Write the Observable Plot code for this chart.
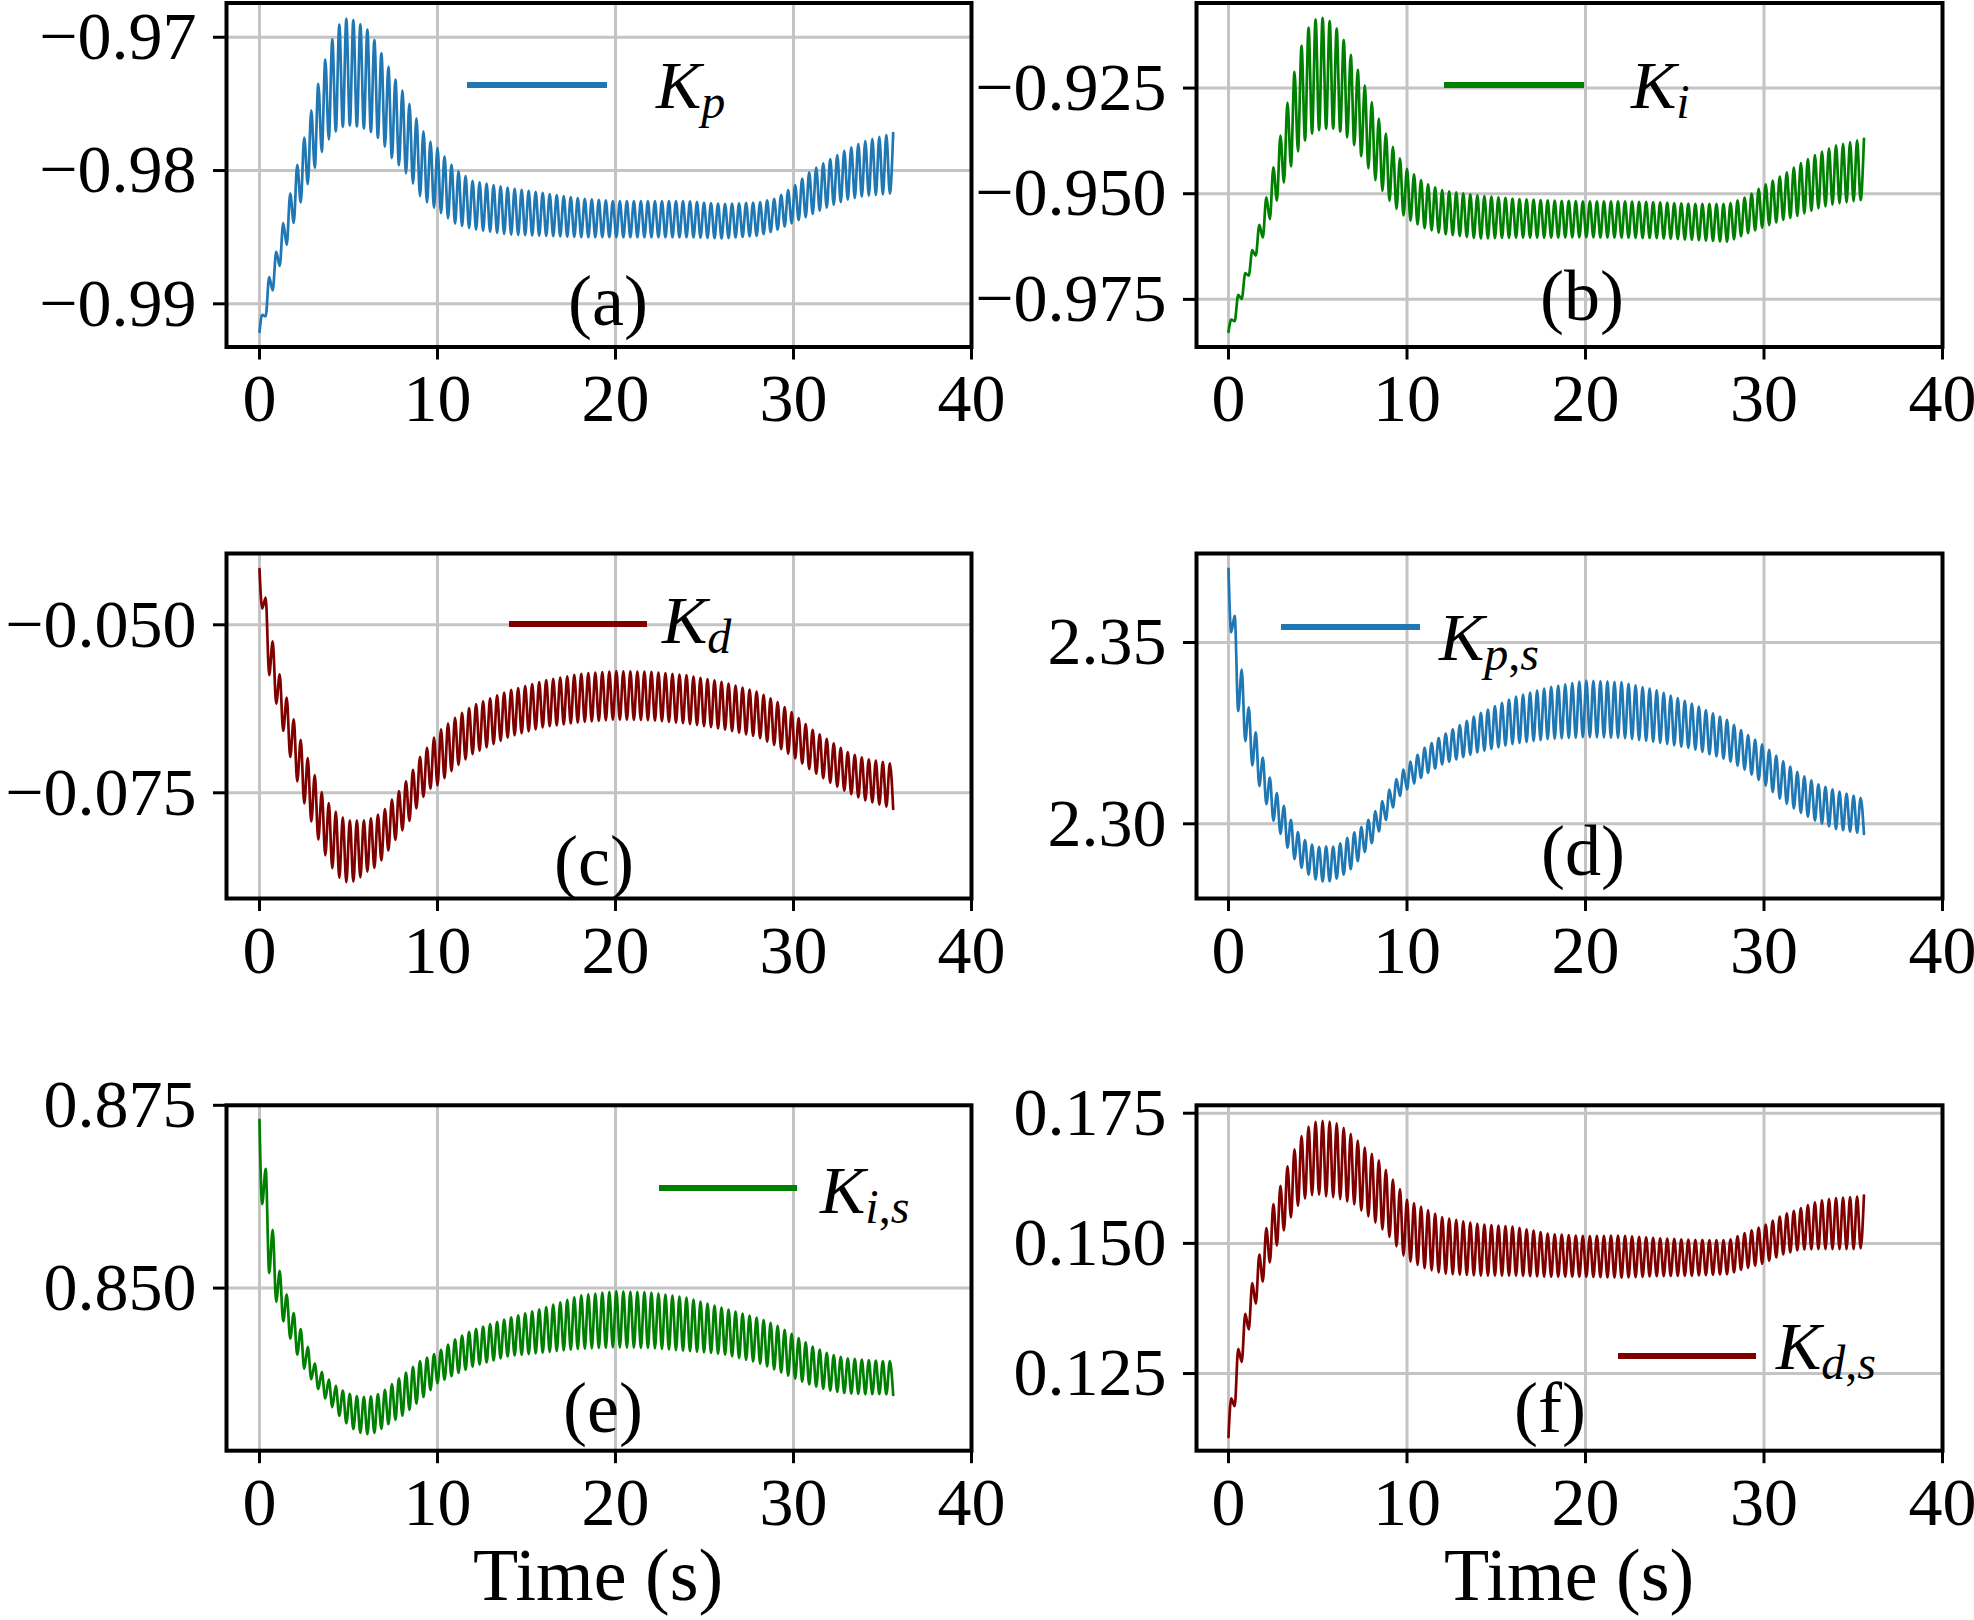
<!DOCTYPE html>
<html><head><meta charset="utf-8">
<script src="https://cdn.jsdelivr.net/npm/d3@7"></script>
<script src="https://cdn.jsdelivr.net/npm/@observablehq/plot@0.6"></script>
<style>
body{margin:0;background:#fff;}
#fig{position:relative;width:1974px;height:1620px;overflow:hidden;background:#fff;}
.panel{position:absolute;}
.panel svg{overflow:visible;}
#overlay{position:absolute;left:0;top:0;pointer-events:none;}
</style></head><body><div id="fig"></div>
<script>
// ---------- data ----------
// sample times (s) for the envelopes of the oscillating gains
const T = [0,0.25,0.5,1,1.5,2,2.5,3,3.5,4,4.5,5,5.5,6,6.5,7,7.5,8,8.5,9,9.5,10,11,12,14,16,18,20,22,24,26,28,29,30,31,32,33,34,35,35.6];

// upper (hi) / lower (lo) envelope of each gain
const kpHi = [-0.9919,-0.9901,-0.9882,-0.9858,-0.9830,-0.9802,-0.9776,-0.9750,-0.9725,-0.9704,-0.9690,-0.9685,-0.9689,-0.9693,-0.9703,-0.9716,-0.9729,-0.9739,-0.9752,-0.9766,-0.9777,-0.9783,-0.9799,-0.9808,-0.9813,-0.9817,-0.9821,-0.9823,-0.9823,-0.9823,-0.9825,-0.9824,-0.9821,-0.9812,-0.9800,-0.9792,-0.9784,-0.9778,-0.9774,-0.9772];
const kpLo = [-0.9921,-0.9914,-0.9902,-0.9877,-0.9857,-0.9836,-0.9817,-0.9801,-0.9786,-0.9774,-0.9768,-0.9766,-0.9767,-0.9769,-0.9773,-0.9781,-0.9792,-0.9798,-0.9807,-0.9819,-0.9825,-0.9830,-0.9840,-0.9844,-0.9848,-0.9849,-0.9850,-0.9850,-0.9850,-0.9850,-0.9851,-0.9849,-0.9845,-0.9839,-0.9833,-0.9827,-0.9822,-0.9819,-0.9818,-0.9817];

const kiHi = [-0.9810,-0.9790,-0.9745,-0.9680,-0.9610,-0.9530,-0.9440,-0.9345,-0.9245,-0.9160,-0.9105,-0.9082,-0.9085,-0.9105,-0.9140,-0.9185,-0.9230,-0.9280,-0.9330,-0.9374,-0.9410,-0.9441,-0.9475,-0.9492,-0.9504,-0.9512,-0.9516,-0.9518,-0.9518,-0.9520,-0.9524,-0.9524,-0.9508,-0.9480,-0.9457,-0.9429,-0.9405,-0.9386,-0.9376,-0.9370];
const kiLo = [-0.9827,-0.9812,-0.9785,-0.9710,-0.9650,-0.9595,-0.9540,-0.9484,-0.9435,-0.9390,-0.9362,-0.9350,-0.9346,-0.9346,-0.9360,-0.9382,-0.9415,-0.9453,-0.9486,-0.9516,-0.9540,-0.9559,-0.9582,-0.9595,-0.9606,-0.9604,-0.9604,-0.9603,-0.9604,-0.9605,-0.9609,-0.9614,-0.9595,-0.9579,-0.9563,-0.9551,-0.9535,-0.9524,-0.9518,-0.9514];

const kdHi = [-0.0417,-0.0440,-0.0490,-0.0562,-0.0606,-0.0647,-0.0685,-0.0717,-0.0749,-0.0770,-0.0784,-0.0791,-0.0791,-0.0791,-0.0785,-0.0776,-0.0758,-0.0742,-0.0722,-0.0697,-0.0680,-0.0660,-0.0638,-0.0620,-0.0598,-0.0583,-0.0573,-0.0569,-0.0570,-0.0575,-0.0585,-0.0600,-0.0613,-0.0632,-0.0655,-0.0672,-0.0689,-0.0699,-0.0704,-0.0707];
const kdLo = [-0.0437,-0.0502,-0.0570,-0.0624,-0.0675,-0.0723,-0.0765,-0.0799,-0.0833,-0.0859,-0.0877,-0.0885,-0.0880,-0.0868,-0.0861,-0.0846,-0.0825,-0.0807,-0.0789,-0.0764,-0.0745,-0.0739,-0.0712,-0.0692,-0.0667,-0.0652,-0.0645,-0.0641,-0.0642,-0.0647,-0.0655,-0.0667,-0.0680,-0.0697,-0.0717,-0.0734,-0.0749,-0.0761,-0.0769,-0.0774];

const kpsHi = [2.3703,2.3620,2.3500,2.3345,2.3257,2.3169,2.3103,2.3060,2.3011,2.2968,2.2946,2.2936,2.2938,2.2937,2.2955,2.2975,2.2993,2.3020,2.3053,2.3093,2.3130,2.3162,2.3210,2.3244,2.3303,2.3349,2.3377,2.3395,2.3391,2.3368,2.3331,2.3285,2.3248,2.3216,2.3175,2.3138,2.3110,2.3092,2.3078,2.3069];
const kpsLo = [2.3615,2.3470,2.3320,2.3215,2.3134,2.3068,2.3010,2.2964,2.2915,2.2883,2.2859,2.2843,2.2839,2.2847,2.2861,2.2881,2.2914,2.2944,2.2985,2.3025,2.3072,2.3095,2.3135,2.3165,2.3198,2.3221,2.3234,2.3239,2.3237,2.3225,2.3207,2.3175,2.3147,2.3110,2.3064,2.3032,2.3005,2.2986,2.2977,2.2972];

const kisHi = [0.8730,0.8690,0.8621,0.8535,0.8493,0.8461,0.8434,0.8400,0.8385,0.8372,0.8362,0.8356,0.8352,0.8351,0.8353,0.8360,0.8370,0.8380,0.8390,0.8400,0.8406,0.8412,0.8430,0.8443,0.8459,0.8473,0.8490,0.8496,0.8494,0.8487,0.8473,0.8459,0.8450,0.8436,0.8421,0.8410,0.8404,0.8402,0.8400,0.8400];
const kisLo = [0.8647,0.8593,0.8525,0.8475,0.8444,0.8415,0.8390,0.8372,0.8355,0.8340,0.8325,0.8312,0.8303,0.8300,0.8302,0.8310,0.8318,0.8325,0.8335,0.8346,0.8358,0.8370,0.8382,0.8393,0.8407,0.8412,0.8417,0.8419,0.8418,0.8414,0.8410,0.8398,0.8388,0.8377,0.8367,0.8360,0.8356,0.8355,0.8355,0.8354];

const kdsHi = [0.1153,0.1235,0.1290,0.1375,0.1448,0.1515,0.1574,0.1619,0.1667,0.1702,0.1725,0.1736,0.1735,0.1732,0.1721,0.1706,0.1688,0.1673,0.1657,0.1632,0.1610,0.1584,0.1567,0.1550,0.1537,0.1532,0.1518,0.1514,0.1515,0.1510,0.1507,0.1506,0.1521,0.1534,0.1554,0.1567,0.1581,0.1587,0.1589,0.1592];
const kdsLo = [0.1128,0.1160,0.1230,0.1318,0.1381,0.1435,0.1480,0.1518,0.1550,0.1578,0.1592,0.1594,0.1590,0.1588,0.1582,0.1576,0.1561,0.1547,0.1531,0.1513,0.1490,0.1468,0.1452,0.1442,0.1438,0.1438,0.1436,0.1436,0.1434,0.1437,0.1438,0.1441,0.1452,0.1462,0.1478,0.1488,0.1489,0.1489,0.1489,0.1491];

// oscillation timing
const FIRST_PEAK = 0.15, HALF_PERIOD = 0.197, T_END = 35.6;

// tick values and labels
const xTicks = [0, 10, 20, 30, 40];
const yTicksA = [-0.99, -0.98, -0.97];
const yTicksB = [-0.975, -0.95, -0.925];
const yTicksC = [-0.075, -0.05];
const yTicksD = [2.30, 2.35];
const yTicksE = [0.85, 0.875];
const yTicksF = [0.125, 0.15, 0.175];
const legendNames = [["K","p"],["K","i"],["K","d"],["K","p,s"],["K","i,s"],["K","d,s"]];
const panelTags = ["(a)","(b)","(c)","(d)","(e)","(f)"];
const xTitle = "Time (s)";

// ---------- build the traces: alternate between the read envelopes ----------
function trace(hi, lo, inverted) {
  const fHi = d3.scaleLinear().domain(T).range(hi);
  const fLo = d3.scaleLinear().domain(T).range(lo);
  const pts = [];
  let type = inverted ? "hi" : "lo";
  pts.push({t: 0, v: (type === "hi" ? fHi : fLo)(0)});
  for (let j = 0; ; j++) {
    const t = FIRST_PEAK + HALF_PERIOD * j;
    if (t >= T_END) break;
    type = ((j % 2 === 0) !== inverted) ? "hi" : "lo";
    pts.push({t, v: (type === "hi" ? fHi : fLo)(t)});
  }
  const endType = type === "hi" ? "lo" : "hi";
  pts.push({t: T_END, v: (endType === "hi" ? fHi : fLo)(T_END)});
  return pts;
}

const BLUE = "#1f77b4", GREEN = "#008000", RED = "#800000";
const FONT = "'Liberation Serif','Times New Roman',serif";

const col = [
  {left: 0, width: 990, ml: 226, mr: 19, xd: [-1.854, 40]},
  {left: 960, width: 1014, ml: 236, mr: 32, xd: [-1.793, 40]}
];
const row = [
  {top: 0, height: 450, mt: 2.5, mb: 103.5},
  {top: 500, height: 500, mt: 53, mb: 102},
  {top: 1060, height: 480, mt: 44.8, mb: 89.8}
];

const panels = [
  {hi: kpHi, lo: kpLo, inv: false, color: BLUE, c: 0, r: 0, yd: [-0.99324, -0.96743], ticks: yTicksA, fmt: ".2f"},
  {hi: kiHi, lo: kiLo, inv: false, color: GREEN, c: 1, r: 0, yd: [-0.98627, -0.90487], ticks: yTicksB, fmt: ".3f"},
  {hi: kdHi, lo: kdLo, inv: true, color: RED, c: 0, r: 1, yd: [-0.09073, -0.03939], ticks: yTicksC, fmt: ".3f"},
  {hi: kpsHi, lo: kpsLo, inv: true, color: BLUE, c: 1, r: 1, yd: [2.2794, 2.37454], ticks: yTicksD, fmt: ".2f"},
  {hi: kisHi, lo: kisLo, inv: true, color: GREEN, c: 0, r: 2, yd: [0.82776, 0.875], ticks: yTicksE, fmt: ".3f"},
  {hi: kdsHi, lo: kdsLo, inv: false, color: RED, c: 1, r: 2, yd: [0.11018, 0.17652], ticks: yTicksF, fmt: ".3f"}
];

const fig = document.getElementById("fig");
const GRID = {stroke: "#c4c4c4", strokeOpacity: 1, strokeWidth: 3};

panels.forEach(p => {
  const C = col[p.c], R = row[p.r];
  const data = trace(p.hi, p.lo, p.inv);
  const chart = Plot.plot({
    width: C.width, height: R.height,
    marginLeft: C.ml, marginRight: C.mr, marginTop: R.mt, marginBottom: R.mb,
    style: {fontFamily: FONT, fontSize: "68px", background: "transparent", overflow: "visible", color: "black"},
    x: {domain: C.xd, axis: null},
    y: {domain: p.yd, axis: null},
    marks: [
      Plot.gridX(xTicks, GRID),
      Plot.gridY(p.ticks, GRID),
      Plot.line(data, {x: "t", y: "v", stroke: p.color, strokeWidth: 2.7, curve: "monotone-x"}),
      Plot.frame({stroke: "black", strokeWidth: 4}),
      Plot.axisX(xTicks, {tickSize: 13, tickPadding: 13, fontSize: 68, strokeWidth: 3, tickFormat: d3.format("d"), label: null}),
      Plot.axisY(p.ticks, {tickSize: 13, tickPadding: 17, fontSize: 68, strokeWidth: 3, tickFormat: d3.format(p.fmt), label: null})
    ]
  });
  const div = document.createElement("div");
  div.className = "panel";
  div.style.left = C.left + "px";
  div.style.top = R.top + "px";
  div.appendChild(chart);
  fig.appendChild(div);
});

// ---------- legends, panel tags, axis titles ----------
const legendPos = [
  {x1: 467, x2: 607, y: 85, lx: 656, ly: 108},
  {x1: 1444, x2: 1584, y: 85, lx: 1631, ly: 108},
  {x1: 509, x2: 647, y: 624, lx: 662, ly: 643},
  {x1: 1281, x2: 1420, y: 627, lx: 1439, ly: 660},
  {x1: 659, x2: 797, y: 1188, lx: 820, ly: 1213},
  {x1: 1618, x2: 1756, y: 1356, lx: 1776, ly: 1369}
];
const tagPos = [[608,325],[1582,320],[594,885],[1583,875],[603,1432],[1550,1432]];
const titlePos = [[598,1600],[1569,1600]];
const colors = panels.map(p => p.color);

const ov = d3.select(fig).append("svg").attr("id","overlay").attr("width",1974).attr("height",1620)
  .style("font-family", FONT);

legendPos.forEach((L, i) => {
  ov.append("line").attr("x1", L.x1).attr("x2", L.x2).attr("y1", L.y).attr("y2", L.y)
    .attr("stroke", colors[i]).attr("stroke-width", 6);
  const t = ov.append("text").attr("x", L.lx).attr("y", L.ly).attr("font-size", 68).attr("fill", "black");
  t.append("tspan").attr("font-style", "italic").text(legendNames[i][0]);
  const sub = legendNames[i][1].split(",");
  sub.forEach((s, k) => {
    if (k > 0) t.append("tspan").attr("font-size", 48).text(",");
    const ts = t.append("tspan").attr("font-style", "italic").attr("font-size", 48).text(s);
    if (k === 0) ts.attr("dy", 10);
  });
});

tagPos.forEach(([x, y], i) => {
  ov.append("text").attr("x", x).attr("y", y).attr("text-anchor", "middle")
    .attr("font-size", 72).attr("fill", "black").text(panelTags[i]);
});
titlePos.forEach(([x, y]) => {
  ov.append("text").attr("x", x).attr("y", y).attr("text-anchor", "middle")
    .attr("font-size", 74).attr("fill", "black").text(xTitle);
});
</script></body></html>
